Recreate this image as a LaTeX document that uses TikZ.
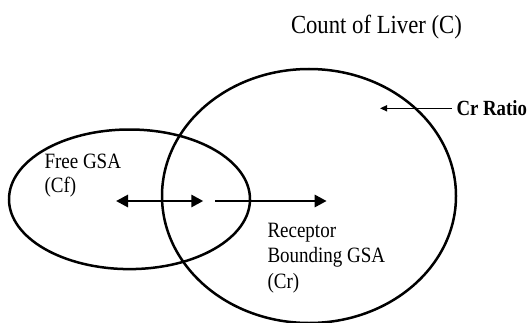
\documentclass[tikz,border=0pt]{standalone}
\usepackage{fontspec}
\setmainfont{Liberation Serif}
\usetikzlibrary{arrows.meta}
\tikzset{
  ring/.style={draw, line width=2.5pt},
  flowtip/.tip={Triangle[length=12pt,width=12pt]},
  flow/.style={line width=2.8pt, -flowtip},
  flowboth/.style={line width=2.8pt, flowtip-flowtip},
  pointer/.style={line width=1.4pt, -{Triangle[length=7pt,width=6pt]}},
  lbl/.style={inner sep=0pt, outer sep=0pt, anchor=base west},
}
\newcommand{\tallbox}[1]{\scalebox{1}[1.15]{#1}}

\begin{document}
\begin{tikzpicture}[x=1pt,y=1pt]
\useasboundingbox (0,0) rectangle (530,322);
\fill[white] (0,0) rectangle (530,322);

% ellipses
\coordinate (freeC) at (129.5,122.7);
\coordinate (liverC) at (309,126);
\draw[ring] (freeC) ellipse [x radius=120.5, y radius=69.8];
\draw[ring] (liverC) ellipse [x radius=147, y radius=127];

% texts
\node[lbl] (title) at (291,288.7) {\tallbox{\fontsize{22.7}{26}\selectfont Count of Liver (C)}};
\node[lbl] (free) at (44.5,153.5) {\tallbox{\fontsize{19}{21}\selectfont\begin{tabular}[t]{@{}l@{}}Free GSA\\(Cf)\end{tabular}}};
\node[lbl] (rec) at (267.5,85) {\tallbox{\fontsize{19}{22.5}\selectfont\begin{tabular}[t]{@{}l@{}}Receptor\\Bounding GSA\\(Cr)\end{tabular}}};
\node[lbl] (ratio) at (456.5,207) {\tallbox{\fontsize{18.8}{22}\selectfont\bfseries Cr Ratio}};

% arrows
\coordinate (a1) at (116,121);
\coordinate (a2) at (203.3,121);
\coordinate (b1) at (215,121);
\coordinate (b2) at (326.7,121);
\coordinate (r1) at (451.7,213.7);
\coordinate (r2) at (380,213.7);
\draw[flowboth] (a1) -- (a2);
\draw[flow] (b1) -- (b2);
\draw[pointer] (r1) -- (r2);
\end{tikzpicture}
\end{document}
